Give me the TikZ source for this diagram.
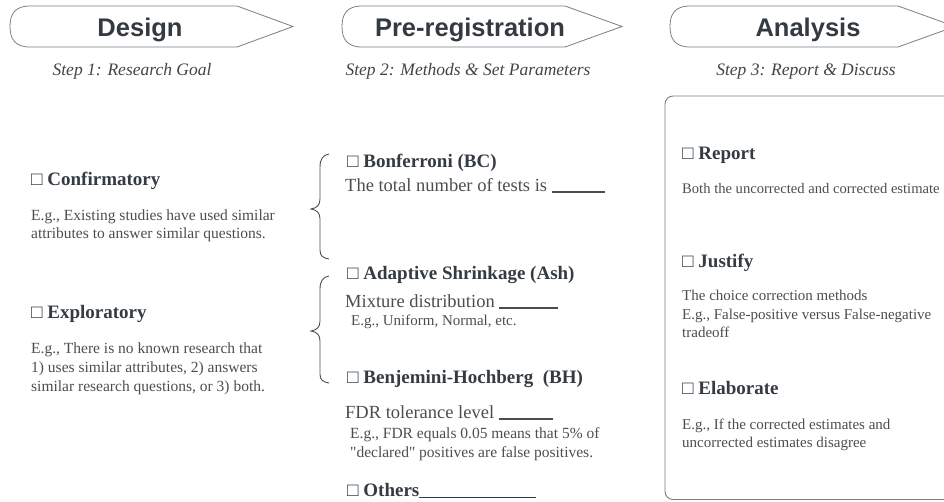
\documentclass[tikz,border=0pt]{standalone}
\usepackage{fontspec}
\setmainfont{Liberation Serif}
\newfontfamily\titlefont{Liberation Sans}
\newfontfamily\rawserif{Liberation Serif}[Ligatures=TeXOff]
\definecolor{bannergray}{HTML}{7A7D82}
\definecolor{titlecol}{HTML}{343A42}
\definecolor{subcol}{HTML}{444444}
\definecolor{headcol}{HTML}{353B43}
\definecolor{bodycol}{HTML}{4D4D4D}
\definecolor{bracecol}{HTML}{4A4F57}
\begin{document}
\begin{tikzpicture}[x=1pt,y=-1pt,
  banner/.style={draw=bannergray, line width=0.8pt},
  title/.style={font=\titlefont\bfseries\fontsize{25.5}{28}\selectfont, text=titlecol, anchor=base, inner sep=0pt},
  sub/.style={font=\itshape\fontsize{17.5}{20}\selectfont, text=subcol, anchor=base, inner sep=0pt},
  head/.style={font=\bfseries\fontsize{19}{22}\selectfont, text=headcol, anchor=base west, inner sep=0pt},
  body/.style={font=\fontsize{15.5}{19}\selectfont, text=bodycol, anchor=base west, inner sep=0pt},
  bodybig/.style={font=\fontsize{18.5}{22}\selectfont, text=bodycol, anchor=base west, inner sep=0pt},
  bodysm/.style={font=\fontsize{15}{18}\selectfont, text=bodycol, anchor=base west, inner sep=0pt},
  bracestyle/.style={draw=bracecol, line width=0.9pt},
  panel/.style={draw=bannergray, line width=0.9pt, rounded corners=8pt}]
\useasboundingbox (0,0) rectangle (944,501);
\clip (0,0) rectangle (944,501);

% banners
\draw[banner] (293,26.5) -- (237,6) -- (30,6) .. controls (15,6) and (10,14) .. (10,26.5) .. controls (10,39) and (15,47) .. (30,47) -- (237,47) -- cycle;
\draw[banner] (622,26.5) -- (565,6) -- (362,6) .. controls (347,6) and (342,14) .. (342,26.5) .. controls (342,39) and (347,47) .. (362,47) -- (565,47) -- cycle;
\draw[banner] (955,26.5) -- (898,6) -- (690,6) .. controls (675,6) and (670,14) .. (670,26.5) .. controls (670,39) and (675,47) .. (690,47) -- (898,47) -- cycle;

\node[title] (t1) at (140,36) {Design};
\node[title] (t2) at (470,36) {Pre-registration};
\node[title] (t3) at (808,36) {Analysis};

\node[sub] (s1) at (132,75) {Step 1: Research Goal};
\node[sub] (s2) at (468,75) {Step 2: Methods \& Set Parameters};
\node[sub] (s3) at (806,75) {Step 3: Report \& Discuss};

% column 1
\node[head] (conf) at (31,185) {□ Confirmatory};
\node[body] (c1) at (31,220) {E.g., Existing studies have used similar};
\node[body] (c2) at (31,238) {attributes to answer similar questions.};
\node[head] (expl) at (31,318) {□ Exploratory};
\node[body] (e1) at (31,353) {E.g., There is no known research that};
\node[body] (e2) at (31,372) {1) uses similar attributes, 2) answers};
\node[body] (e3) at (31,391) {similar research questions, or 3) both.};

% braces
\draw[bracestyle] (329,154) .. controls (323,155) and (320,159) .. (320,167) -- (320,199) .. controls (320,205) and (317,208) .. (311,209) .. controls (317,210) and (320,213) .. (320,219) -- (320,250) .. controls (320,256) and (323,258) .. (329,259);
\draw[bracestyle] (329,276) .. controls (323,277) and (320,281) .. (320,289) -- (320,321) .. controls (320,327) and (317,330) .. (311,331) .. controls (317,332) and (320,335) .. (320,341) -- (320,374) .. controls (320,380) and (323,382) .. (329,383);

% column 2
\node[head] (bc) at (347,167) {□ Bonferroni (BC)};
\node[bodybig] (bct) at (345,191) {The total number of tests is \rule[-1.5pt]{53pt}{1.1pt}};
\node[head] (ash) at (347,279) {□ Adaptive Shrinkage (Ash)};
\node[bodybig] (asht) at (345,307) {Mixture distribution \rule[-1.5pt]{59pt}{1.1pt}};
\node[bodysm] (ashe) at (351,325) {E.g., Uniform, Normal, etc.};
\node[head] (bh) at (347,383) {□ Benjemini-Hochberg\ \ (BH)};
\node[bodybig] (bht) at (345,418) {FDR tolerance level \rule[-1.5pt]{54pt}{1.1pt}};
\node[body] (bhe1) at (350,438) {E.g., FDR equals 0.05 means that 5\% of};
\node[body, font=\rawserif\fontsize{15.5}{19}\selectfont] (bhe2) at (350,457) {"declared" positives are false positives.};
\node[head] (oth) at (347,496) {□ Others\rule[-2pt]{117pt}{1.2pt}};

% column 3
\draw[panel] (665,96) rectangle (980,499.5);
\node[head] (rep) at (682,159) {□ Report};
\node[bodysm, font=\fontsize{14.6}{18}\selectfont] (rept) at (682,193) {Both the uncorrected and corrected estimate};
\node[head] (jus) at (682,267) {□ Justify};
\node[bodysm] (jus1) at (682,300) {The choice correction methods};
\node[bodysm] (jus2) at (682,319) {E.g., False-positive versus False-negative};
\node[bodysm] (jus3) at (682,337) {tradeoff};
\node[head] (ela) at (682,394) {□ Elaborate};
\node[bodysm] (ela1) at (682,429) {E.g., If the corrected estimates and};
\node[bodysm] (ela2) at (682,447) {uncorrected estimates disagree};
\end{tikzpicture}
\end{document}
